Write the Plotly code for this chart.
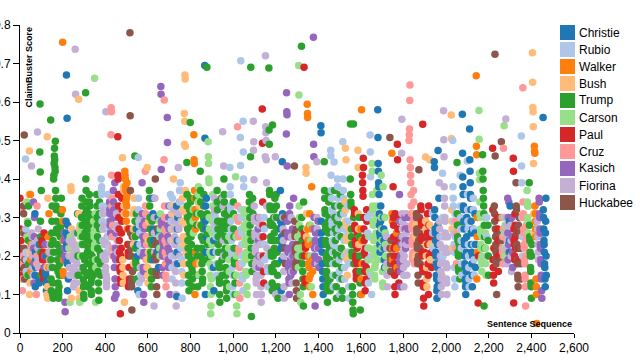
import plotly.graph_objects as go

# ---------------- data ----------------
candidates = ["Christie", "Rubio", "Walker", "Bush", "Trump", "Carson",
              "Paul", "Cruz", "Kasich", "Fiorina", "Huckabee"]
colors = ["#1f77b4", "#aec7e8", "#ff7f0e", "#ffbb78", "#2ca02c", "#98df8a",
          "#d62728", "#ff9896", "#9467bd", "#c5b0d5", "#8c564b"]

# each turn: (first sentence index, ClaimBuster scores of its consecutive sentences)
christie = [
    (70, [.31, .15, .12, .21, .17, .19]),
    (89, [.14, .13, .23]),
    (120, [.16, .15, .13, .2, .11]),
    (216, [.29, .26, .67, .23, .22, .558, .18, .11, .28, .25, .19, .14]),
    (550, [.27, .23, .2, .11]),
    (623, [.35, .31, .27, .19, .24]),
    (648, [.3, .21, .17, .26, .22]),
    (735, [.33, .095, .21, .24, .27, .18, .3]),
    (867, [.695, .506, .29, .1, .33, .27, .21, .25, .35]),
    (907, [.21, .17, .24, .11]),
    (1222, [.37, .29, .27, .22, .11, .25, .28, .19, .23, .445, .31]),
    (1412, [.538, .52, .29, .26, .24, .23, .21, .18, .16, .14, .12, .1]),
    (1679, [.58, .508, .44, .42, .39, .38, .36, .31, .28, .26, .23, .21, .25, .29, .33]),
    (1706, [.3, .27, .24, .22, .19, .17]),
    (1944, [.445, .43, .32, .3, .27, .26, .24, .21, .2, .18, .15, .14, .11, .09, .12,
            .17, .23, .28, .474, .25, .2, .13, .35]),
    (2076, [.568, .467, .405, .38, .36, .33, .32, .29, .27, .24, .23, .2, .18, .17, .14,
            .12, .1, .13, .16, .21, .25, .3]),
    (2110, [.53, .45, .42, .39, .36, .35, .32, .29, .26, .23, .21, .18, .15, .12, .2, .27]),
    (2135, [.31, .26, .23, .17]),
    (2297, [.29, .24, .21, .33]),
    (2455, [.56, .32, .3, .27, .24, .23, .21, .18, .17, .14, .12, .26, .29, .35, .2, .15]),
]
rubio = [
    (26, [.452, .27, .21, .16, .19]),
    (381, [.4, .37, .38, .36, .29, .33, .31, .27, .24, .2]),
    (412, [.36, .33, .32, .29, .27, .25, .22]),
    (555, [.456, .35, .32, .29, .1, .13, .28, .26, .23, .21, .17, .15]),
    (706, [.36, .33, .24, .29, .27, .31, .2, .17, .14, .35]),
    (752, [.39, .37, .34, .22, .29, .24, .19, .16, .13, .09]),
    (918, [.3, .27, .25, .21, .18, .15]),
    (985, [.43, .38, .36, .33, .32, .29, .27, .26, .24, .21, .2, .17, .15, .12, .1]),
    (1034, [.508, .435, .707, .32, .3, .27, .26, .23, .2, .18, .15, .14, .11, .55, .47, .4, .38]),
    (1146, [.3, .27, .23, .19]),
    (1162, [.2, .16, .12]),
    (1458, [.475, .46, .41, .37, .35, .32, .29, .28, .24, .21, .18, .15, .12, .26, .23, .31, .444]),
    (1490, [.4, .38, .35, .33, .3, .27, .25, .22, .19, .16, .14, .1]),
    (1515, [.497, .4, .37, .35, .31, .27, .24, .2, .17, .14]),
    (1538, [.33, .29, .26, .21, .18, .12, .09]),
    (1631, [.3, .26, .22, .19, .13]),
    (1643, [.514, .47, .406, .31, .25, .2, .15, .1]),
    (1936, [.31, .26, .22]),
    (1983, [.415, .3, .25, .2]),
    (2031, [.5, .38, .35, .33, .29, .26, .23, .21, .17, .14, .12, .31, .25]),
    (2066, [.41, .33, .3, .27, .24, .22, .18, .15]),
    (2099, [.447, .36, .32, .29, .27, .23, .2, .17, .14, .12]),
    (2127, [.35, .32, .27, .23, .19, .15]),
    (2190, [.3, .25, .2]),
    (2353, [.512, .434, .39, .3, .25, .2]),
]
walker = [
    (49, [.36, .19, .16, .23]),
    (133, [.25, .21, .17, .31, .19]),
    (199, [.32, .755, .29, .16, .24, .19, .15]),
    (492, [.42, .41, .4, .38, .37, .34, .31, .29, .35, .33, .39, .36, .27, .23]),
    (816, [.515, .45, .44, .37, .35, .1, .32, .3, .27, .21, .18]),
    (1348, [.594, .57, .56, .27, .24, .23, .2, .18, .17, .14, .12, .28, .31, .19, .15]),
    (1369, [.38, .27, .23, .19, .16, .1]),
    (1600, [.27, .14, .1, .58, .24, .18]),
    (1745, [.467, .31, .19, .29, .22]),
    (1767, [.26, .22, .17]),
    (2141, [.668, .485, .463, .14, .3, .25, .21]),
    (2414, [.485, .472, .467, .33, .31, .29, .27, .25, .14, .12, .1, .025]),
]
bush = [
    (43, [.36, .473, .1, .21, .13]),
    (126, [.1, .17, .51, .12, .09, .35]),
    (239, [.38, .37, .09, .27, .23, .2]),
    (275, [.607, .31, .09, .11, .27]),
    (481, [.455, .19, .17, .15, .13, .38, .37, .33, .31, .08]),
    (531, [.31, .27, .23, .18, .32, .35, .25]),
    (597, [.43, .19, .17, .15, .13, .24, .21, .29, .33]),
    (717, [.31, .27, .24, .4, .33]),
    (763, [.35, .32, .29, .25, .23, .18, .15]),
    (771, [.57, .49, .55, .67, .66, .485, .37, .25, .31, .28, .21]),
    (842, [.28, .33, .18]),
    (1342, [.43, .415, .25, .31, .27]),
    (1526, [.34, .48, .32, .29, .45, .28, .25, .24, .21, .19, .15]),
    (1546, [.27, .25, .2]),
    (1586, [.475, .43, .31, .27, .23]),
    (1854, [.31, .25, .2, .28]),
    (1903, [.457, .29, .27, .23, .2, .17, .14, .12]),
    (1923, [.45, .28, .23, .19]),
    (2024, [.566, .505, .32, .29, .27, .22]),
    (2405, [.728, .651, .586, .575, .536, .44, .31, .26]),
]
trump = [
    (37, [.285, .15, .24, .33, .18]),
    (93, [.47, .595, .418, .29, .25, .21, .15, .37, .23]),
    (144, [.553, .19, .14, .11, .23, .26, .29, .33, .17, .1, .13, .24, .09, .21]),
    (158, [.4, .41, .44, .46, .48, .45, .43, .42, .498, .37, .35, .33, .32, .29, .27, .26,
           .23, .21, .19, .17, .16, .13, .11, .09, .1, .12, .15, .16, .18, .21, .22, .25,
           .27, .28, .31, .32, .35, .25, .2, .15]),
    (270, [.31, .26, .2, .15]),
    (289, [.3, .33, .35, .28, .25, .23, .2, .17, .14, .12, .1, .09, .13, .16, .19, .23,
           .26, .29, .31, .624, .4, .37, .34, .32, .31, .27, .24, .21, .18, .15, .12, .2,
           .22, .25, .28, .31, .36, .34, .33, .3, .25, .21, .18, .16, .13, .11, .1, .14,
           .17, .2, .23, .26, .29, .24, .19, .15]),
    (360, [.36, .33, .3, .28, .25, .22, .19, .16, .13, .11, .085, .29, .31, .34, .27, .24,
           .21, .18, .15, .2]),
    (539, [.46, .29, .25, .22, .19, .18, .27, .31, .14, .17]),
    (607, [.37, .35, .33, .3, .27, .24, .21, .19, .2, .12, .14, .16, .23, .29, .26]),
    (783, [.443, .36, .33, .3, .27, .24, .22, .2, .15, .13, .11, .18, .26, .32, .29, .35,
           .547, .34, .31, .28, .25, .23, .21, .19, .17, .16, .14, .12]),
    (828, [.35, .31, .28, .22, .2, .15, .12]),
    (846, [.42, .37, .34, .31, .28, .25, .22, .2, .18, .16, .13, .14, .19, .24, .27, .3,
           .33, .36, .29, .21]),
    (877, [.69, .31, .26, .19, .23]),
    (925, [.37, .34, .32, .29, .27, .25, .23, .21, .18, .17, .14, .13, .1, .08, .13, .17,
           .21, .26, .29, .33, .35, .28, .24, .19, .15]),
    (957, [.4, .36, .34, .31, .29, .27, .25, .22, .2, .17, .15, .13, .11, .09, .12, .16,
           .21, .24, .28, .3, .32]),
    (1001, [.34, .31, .27, .25, .22, .19, .18, .15, .13, .1]),
    (1076, [.34, .36, .32, .3, .28, .26, .458, .69, .24, .22, .043, .2, .18, .16, .3,
            .33, .35, .31]),
    (1168, [.688, .527, .49, .37, .36, .33, .32, .29, .28, .25, .24, .21, .2, .17, .16,
            .13, .11, .54, .28, .24, .2, .16, .12, .3, .32, .26, .22, .18, .35]),
    (1202, [.36, .33, .3, .27, .24, .21, .18, .15, .12, .09]),
    (1321, [.745, .3, .27, .24, .2, .18, .16, .14, .12, .07, .34]),
    (1428, [.445, .37, .35, .32, .31, .28, .27, .24, .23, .2, .19, .16, .15, .12, .11,
            .08, .13, .18, .21, .26, .29, .34, .36, .3, .27, .22, .19, .14, .11]),
    (1476, [.37, .33, .3, .27, .24, .21, .18, .15, .12, .09, .2, .26, .29]),
    (1503, [.36, .33, .31, .28, .25, .22, .2, .17, .14, .11, .09]),
    (1550, [.4, .543, .36, .34, .33, .27, .25, .23, .21, .2, .12, .1, .08, .06, .05,
            .543, .3, .18]),
    (1592, [.3, .25, .2, .16, .13, .06, .1]),
    (2051, [.443, .31, .28, .25, .24, .21, .2, .17, .16, .2, .23, .28, .22, .14]),
    (2171, [.463, .42, .4, .37, .35, .33, .31, .07, .28, .25, .22]),
    (2196, [.28, .24, .2, .15]),
    (2390, [.39, .28, .25, .24, .21, .2, .17, .16, .13, .12, .09, .2, .23]),
]
carson = [
    (32, [.34, .25, .15, .29]),
    (235, [.08, .25, .22]),
    (281, [.08, .28, .25, .2, .26, .23, .27]),
    (346, [.29, .26, .25, .22, .662, .23, .27, .31, .19, .08, .17, .22, .24]),
    (654, [.29, .25, .22, .2, .27, .31]),
    (812, [.29, .32, .26]),
    (836, [.34, .36, .38, .31, .15]),
    (883, [.497, .458, .44, .4, .39, .3, .27, .24, .21, .18, .15, .12, .05, .07, .1,
           .14, .17, .2, .23, .26, .29, .33, .36]),
    (979, [.22, .25, .19, .16, .12]),
    (1012, [.406, .3, .25, .2, .15, .07, .05, .1]),
    (1052, [.32, .31, .28, .27, .24, .23, .2, .19, .16, .15, .21, .25, .29, .12, .1]),
    (1303, [.25, .22, .2, .17]),
    (1308, [.695, .618, .33, .3, .28, .25, .22, .2, .1, .08, .21, .26]),
    (1364, [.28, .24, .2, .12]),
    (1637, [.25, .22, .19, .16]),
    (1652, [.44, .42, .36, .33, .32, .29, .28, .25, .24, .21, .2, .17, .15, .14, .17,
            .18, .21, .22, .25, .26, .29, .3, .33, .37, .24, .19]),
    (1695, [.41, .3, .27, .24, .22, .19, .16, .13, .12, .38]),
    (1713, [.3, .26, .23, .2, .17]),
    (2154, [.578, .503, .415, .398, .34, .31, .3, .27, .26, .23, .22, .19, .18, .16, .2, .25]),
    (2183, [.3, .26, .22, .18, .15]),
    (2272, [.538, .3, .26, .22, .2, .28]),
    (2380, [.37, .34, .33, .3, .29, .26, .33]),
]
paul = [
    (0, [.35, .27, .22, .19, .15, .24, .17, .21]),
    (103, [.24, .23, .2, .19, .16, .155, .21, .23, .14, .19, .26, .17]),
    (459, [.51, .41, .4, .36, .33, .3, .27, .24, .21, .19, .17, .16, .05, .14, .13, .2,
           .22, .26, .29, .35, .32]),
    (507, [.23, .21, .12, .2, .27, .17, .14, .13]),
    (1137, [.582, .493, .34, .28, .25, .2, .16, .13]),
    (1333, [.69, .26, .25, .2, .14, .13, .23, .22]),
    (1569, [.32, .31, .28, .27, .24, .23, .2, .19, .16, .14, .15, .18, .19, .22, .23, .26]),
    (1607, [.41, .39, .37, .355, .454, .43, .3, .27, .24, .21, .18, .16, .13, .11, .22, .25]),
    (1624, [.2, .17, .14, .32, .29]),
    (1751, [.38, .3, .28, .25, .22, .2, .18, .15, .12, .1, .31, .23, .17]),
    (1771, [.49, .45, .3, .27, .24, .2, .16, .13]),
    (1881, [.33, .32, .29, .28, .25, .24, .21, .2, .17, .542, .16, .13, .12, .09, .07,
            .12, .16, .21, .24, .29]),
    (1912, [.31, .26, .23, .18, .15, .1, .33, .28, .25, .2]),
    (1930, [.25, .21, .17]),
    (2150, [.078, .2]),
    (2218, [.48, .32, .19, .17, .15, .13, .22]),
    (2241, [.3, .27, .24, .2, .16]),
    (2315, [.454, .42, .078, .27, .24, .23, .2, .19, .31, .28, .25, .22]),
    (2341, [.26, .22, .19, .3]),
]
cruz = [
    (9, [.32, .18, .11, .2, .14, .26]),
    (77, [.1, .18, .2, .33]),
    (427, [.515, .585, .575, .41, .33, .35, .25, .22, .28, .2]),
    (588, [.42, .33, .31, .28, .19, .25, .23, .17]),
    (676, [.45, .605, .33, .3, .27, .24, .21, .18, .15, .12, .14, .2, .23, .26]),
    (1021, [.536, .33, .3, .29, .26, .25, .22, .21, .18, .17, .13, .09]),
    (1826, [.5, .515, .53, .604, .644, .45, .43, .41, .39, .36, .33, .31, .28, .27, .24,
            .23, .2, .19, .21, .25, .29, .37, .34, .3, .27, .23, .18]),
    (2045, [.29, .22, .26, .18]),
    (2263, [.3, .22, .21, .25, .18, .27, .48, .2]),
    (2360, [.637, .34, .31, .3, .27, .26, .23, .22, .19, .18, .15, .14, .12, .07, .2, .24, .28]),
]
kasich = [
    (63, [.34, .22, .18, .13, .25, .3]),
    (116, [.17, .2, .23]),
    (207, [.26, .24, .22, .2, .08, .055, .19, .25]),
    (420, [.34, .32, .31, .28, .29, .26]),
    (438, [.37, .34, .32, .3, .2, .17, .09, .39, .14, .12, .22, .19, .26, .1]),
    (573, [.39, .31, .28, .25, .2, .17, .16, .1, .08, .21, .24, .27, .29, .23]),
    (661, [.64, .62, .425, .29, .28, .25, .24, .21, .2, .17, .15, .2, .23, .22]),
    (691, [.56, .495, .28, .25, .22, .19, .17, .3, .33, .27, .24, .21, .18, .1]),
    (1118, [.3, .27, .24, .2, .17]),
    (1250, [.517, .624, .575, .567, .434, .29, .26, .25, .22, .21, .18, .17, .14, .13, .1,
            .31, .33, .25, .21, .19, .16, .15]),
    (1279, [.27, .23, .2, .18, .16, .35]),
    (1377, [.768, .49, .458, .3, .27, .22, .2, .18, .07, .24, .26, .23, .19]),
    (1399, [.29, .26, .22, .19, .17]),
    (1781, [.36, .29, .19, .18, .16, .12, .2, .23, .25]),
    (1807, [.3, .27, .24, .22]),
    (1820, [.3, .27, .24]),
    (2289, [.35, .26, .19, .3, .23, .34, .21]),
    (2309, [.3, .25, .21, .17]),
    (2436, [.35, .34, .31, .3, .27, .26, .23, .22, .19, .18, .15, .14, .11, .09, .3, .26]),
]
fiorina = [
    (54, [.434, .26, .22, .25, .2, .17, .23, .15]),
    (82, [.522, .24, .22, .19, .27, .17]),
    (139, [.21, .19, .23, .17]),
    (229, [.22, .2, .24, .17, .15]),
    (246, [.24, .23, .2, .19, .16, .15, .12, .17, .13, .21, .23, .26]),
    (259, [.737, .26, .62, .22, .19, .15, .13, .21, .18, .16]),
    (392, [.32, .31, .28, .27, .24, .23, .2, .19, .16, .19, .17, .575, .15, .13, .12, .14,
           .21, .25, .23]),
    (453, [.31, .28, .27, .24, .21]),
    (568, [.3, .28, .17, .14]),
    (629, [.07, .3, .26, .21, .35]),
    (723, [.32, .29, .27, .25, .23, .2, .18, .16, .13, .1, .07]),
    (743, [.43, .31, .28, .27, .24, .34, .37, .2]),
    (912, [.35, .32, .31, .28, .27]),
    (951, [.523, .35, .33, .24, .2, .434]),
    (1095, [.55, .475, .497, .398, .33, .3, .29, .26, .25, .22, .21, .18, .17, .14, .13,
            .1, .15, .19, .23, .27, .29, .25]),
    (1124, [.3, .28, .25, .23, .2, .18, .15, .12, .08, .1]),
    (1151, [.458, .72, .536, .52, .5, .45, .39, .33, .22, .17]),
    (1198, [.458, .3, .1]),
    (1234, [.3, .27, .24, .2, .16, .12, .09]),
    (1273, [.3, .25, .2, .16, .13]),
    (1393, [.445, .3, .27, .22, .18]),
    (1720, [.25, .22, .18, .15, .12]),
    (1791, [.467, .555, .31, .29, .27, .25, .23, .21, .19, .17, .15, .12, .2, .24, .28]),
    (1812, [.31, .26, .23, .18, .15]),
    (1968, [.39, .29, .27, .25, .23, .2, .18, .16, .14, .12, .1, .15, .19, .22]),
    (1988, [.577, .502, .458, .38, .35, .33, .3, .29, .26, .25, .22, .21, .18, .17, .14,
            .13, .1, .17, .21, .25]),
    (2280, [.556, .3, .26, .22, .18, .28, .24]),
    (2303, [.28, .24, .2, .16]),
    (2428, [.29, .27, .25, .23, .21, .19]),
]
huckabee = [
    (16, [.33, .31, .26, .22, .514, .17, .14, .19, .16]),
    (516, [.78, .564, .37, .26, .23, .22, .2, .13, .12, .06, .14, .25, .16]),
    (635, [.4, .23, .2, .19, .16, .15, .12, .1, .21, .24, .27, .15]),
    (1242, [.3, .26, .22, .18]),
    (1288, [.434, .29, .26, .25, .22, .21, .18, .17, .13, .11, .09, .27, .23, .19]),
    (1736, [.508, .22, .2, .18, .16, .19, .24]),
    (1860, [.31, .3, .27, .26, .23, .22, .19, .18, .15, .13, .2, .24, .424]),
    (1875, [.3, .26, .22, .18]),
    (2226, [.33, .31, .29, .724, .46, .27, .25, .23, .21, .19, .18, .1, .2, .26]),
    (2255, [.3, .26, .22, .19, .497, .24]),
    (2328, [.39, .33, .32, .26, .23, .22, .19, .18, .15, .14, .12, .28]),
    (2346, [.3, .26, .22, .18, .14]),
]

turns_by_candidate = [christie, rubio, walker, bush, trump, carson,
                      paul, cruz, kasich, fiorina, huckabee]

x_ticks = list(range(0, 2601, 200))
y_ticks = [0, 0.1, 0.2, 0.3, 0.4, 0.5, 0.6, 0.7, 0.8]

# ---------------- build points (drawn in sentence order) ----------------
points = []
for color, turns in zip(colors, turns_by_candidate):
    for start, scores in turns:
        for i, s in enumerate(scores):
            points.append((start + i, s, color))
points.sort(key=lambda p: p[0])

fig = go.Figure()
fig.add_trace(go.Scatter(
    x=[p[0] for p in points],
    y=[p[1] for p in points],
    mode="markers",
    marker=dict(size=7.5, color=[p[2] for p in points], line=dict(width=0), opacity=1),
    hoverinfo="x+y",
    showlegend=False,
))

FONT = "Liberation Sans, Arial, Helvetica, sans-serif"
L, R, T, B = 20, 66, 25, 27
W, H = 640, 360
pw, ph = W - L - R, H - T - B

def px_to_paper_x(px):
    return (px - L) / pw

def px_to_paper_y(py):
    return 1 - (py - T) / ph

# manual legend (coloured squares + names)
shapes = []
annotations = []
sq = 15
for i, (name, color) in enumerate(zip(candidates, colors)):
    top = 25 + i * 17
    shapes.append(dict(type="rect", xref="paper", yref="paper",
                       x0=px_to_paper_x(560), x1=px_to_paper_x(560 + sq),
                       y0=px_to_paper_y(top + sq), y1=px_to_paper_y(top),
                       fillcolor=color, line=dict(width=0)))
    annotations.append(dict(xref="paper", yref="paper",
                            x=px_to_paper_x(577), y=px_to_paper_y(top + sq / 2),
                            xanchor="left", yanchor="middle", showarrow=False,
                            text=name, font=dict(family=FONT, size=12, color="#000")))

annotations.append(dict(xref="paper", yref="paper", x=1, y=0, xanchor="right",
                        yanchor="bottom", yshift=2, showarrow=False,
                        text="<b>Sentence Sequence</b>",
                        font=dict(family=FONT, size=9, color="#000")))
annotations.append(dict(xref="paper", yref="paper", x=0, y=1, xanchor="left",
                        yanchor="top", xshift=1, showarrow=False, textangle=-90,
                        text="<b>ClaimBuster Score</b>",
                        font=dict(family=FONT, size=9, color="#000")))

fig.update_layout(
    width=W, height=H,
    margin=dict(l=L, r=R, t=T, b=B, pad=0),
    paper_bgcolor="white", plot_bgcolor="white",
    template="none",
    font=dict(family=FONT, size=12, color="#000"),
    shapes=shapes, annotations=annotations,
    xaxis=dict(range=[0, 2600], tickvals=x_ticks, tickformat=",",
               showline=True, linecolor="#000", linewidth=1,
               ticks="outside", ticklen=4, tickcolor="#000", tickwidth=1,
               showgrid=False, zeroline=False, automargin=False,
               tickfont=dict(family=FONT, size=12, color="#000")),
    yaxis=dict(range=[0, 0.8], tickvals=y_ticks,
               showline=True, linecolor="#000", linewidth=1,
               ticks="outside", ticklen=6, tickcolor="#000", tickwidth=1,
               showgrid=False, zeroline=False, automargin=False,
               tickfont=dict(family=FONT, size=12, color="#000")),
)

# the page's default 8px body margin would shift the chart; remove it
fig.write_html("out.html", config={"displayModeBar": False},
               post_script="document.body.style.margin='0';document.body.style.overflow='hidden';")
